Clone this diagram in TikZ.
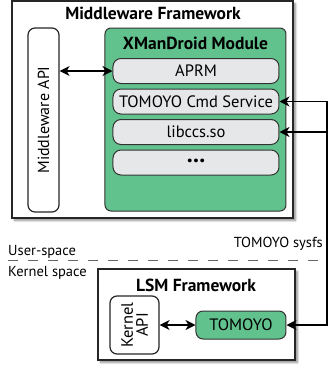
\documentclass[tikz,border=0pt]{standalone}
\usepackage{fontspec}
\setmainfont{PT Sans}
\usepackage{tikz}
\usetikzlibrary{arrows,arrows.meta,positioning,shadows,shadows.blur}
\definecolor{modgreen}{HTML}{62C28D}
\definecolor{slotgray}{HTML}{E6E7E8}
\tikzstyle{frame} = [rectangle, draw=black!85, line width=1.2pt, fill=white, inner sep=0pt, blur shadow={shadow xshift=2.5pt, shadow yshift=-2.5pt, shadow blur steps=6, shadow opacity=45}]
\tikzstyle{title} = [font=\fontsize{17.5}{19}\selectfont\bfseries, inner sep=0pt]
\tikzstyle{api} = [rectangle, rounded corners=7pt, draw=black!85, line width=1.2pt, fill=white, inner sep=0pt, align=center, font=\fontsize{16}{16}\selectfont]
\tikzstyle{module} = [rectangle, rounded corners=6pt, draw=black!80, line width=1pt, fill=modgreen, inner sep=0pt]
\tikzstyle{slot} = [rectangle, rounded corners=8pt, draw=black!80, line width=1pt, fill=slotgray, minimum width=166pt, minimum height=25pt, inner sep=0pt, font=\fontsize{16.5}{18}\selectfont]
\tikzstyle{label} = [font=\fontsize{14.5}{16}\selectfont, inner sep=0pt]

\begin{document}
\begin{tikzpicture}[x=1pt, y=-1pt, node distance=4.5pt, >={Stealth[length=10pt,width=10pt,inset=3pt]}]
	\useasboundingbox (0,0) rectangle (330,368);
	% user space
	\node[frame, minimum width=281pt, minimum height=217pt] (mw) at (152.5,109.5) {};
	\node[title] (mwtitle) at (153,13) {Middleware Framework};
	\node[api, minimum width=31pt, minimum height=184pt] (mwapi) at (43.5,120) {};
	\node[api, rotate=90, draw=none, fill=none] (mwapitext) at (mwapi.center) {Middleware API};
	\node[module, minimum width=181pt, minimum height=183pt] (xman) at (195.5,119.5) {};
	\node[title] (xmantitle) at (195.5,43) {XManDroid Module};
	\node[slot] (aprm) at (196,71) {APRM};
	\node[slot, below=of aprm] (cmd) {TOMOYO Cmd Service};
	\node[slot, below=of cmd] (libccs) {libccs.so};
	\node[slot, below=of libccs, font=\fontsize{24}{18}\selectfont\bfseries] (dots) {\raisebox{3pt}{...}};
	
	% kernel space
	\node[frame, minimum width=197pt, minimum height=91pt] (lsm) at (196.5,314.5) {};
	\node[title] (lsmtitle) at (196,285) {LSM Framework};
	\node[api, minimum width=49pt, minimum height=58pt] (kapi) at (134.5,325) {};
	\node[api, rotate=90, draw=none, fill=none, font=\fontsize{16.5}{15}\selectfont] (kapitext) at (kapi.center) {Kernel\\API};
	\node[module, rounded corners=7pt, minimum width=90pt, minimum height=28pt, font=\fontsize{16.5}{18}\selectfont] (tomoyo) at (241,325) {TOMOYO};
	
	% divider
	\draw[black!60, line width=1pt, dash pattern=on 10pt off 10pt] (8,260) -- (327,260);
	\node[label, anchor=west] (user) at (8,252) {User-space};
	\node[label, anchor=west] (kernel) at (8,273) {Kernel space};
	\coordinate (sysbus) at (327,0);
	\node[label, anchor=east] (sysfs) at (323,244) {TOMOYO sysfs};
	
	%arrow
	\draw[<->, line width=1.4pt] (mwapi.east |- aprm.west) -- (aprm.west);
	\draw[<->, line width=1.4pt] (kapi.east) -- (tomoyo.west);
	\draw[<->, line width=1.4pt] (tomoyo.east) -| (sysbus |- cmd.east) -- (cmd.east);
	\draw[->, line width=1.4pt] (sysbus |- libccs.east) -- (libccs.east);
\end{tikzpicture}
\end{document}
